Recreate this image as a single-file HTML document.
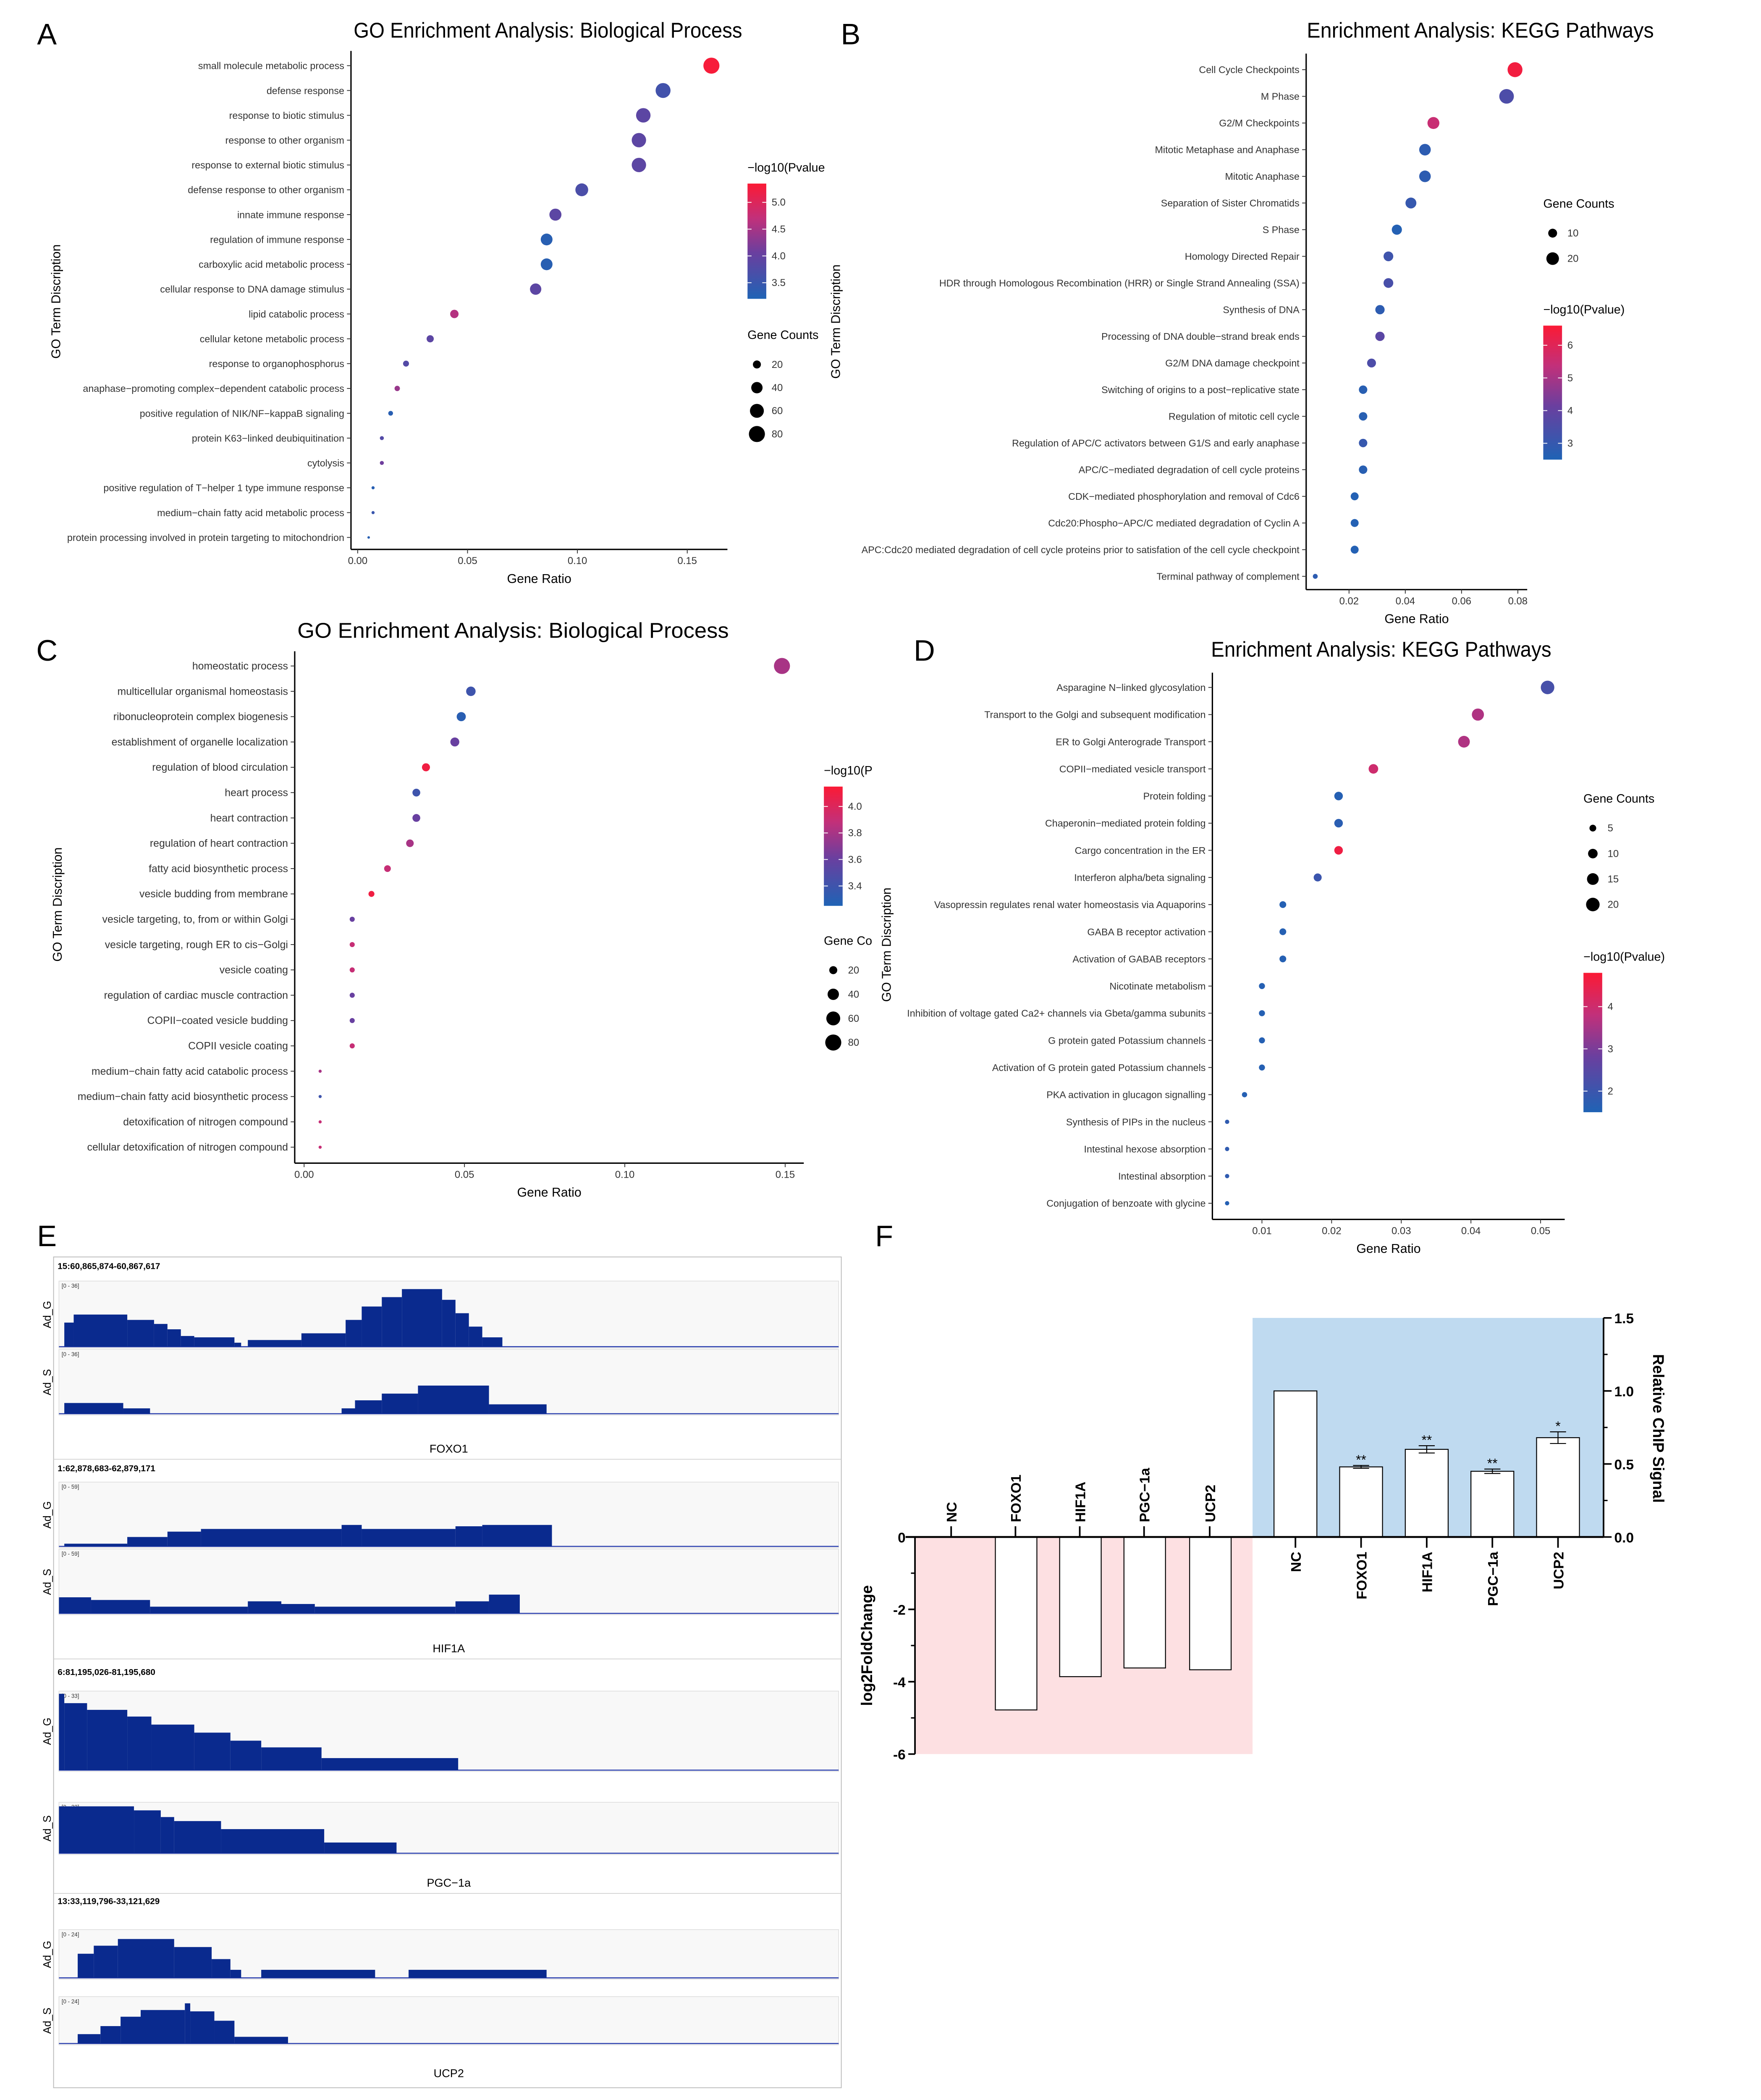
<!DOCTYPE html>
<html><head><meta charset="utf-8">
<style>
html,body{margin:0;padding:0;background:#fff;overflow:hidden;width:4194px;height:5175px;}
svg{display:block;font-family:"Liberation Sans",sans-serif;}
</style></head>
<body>
<svg id="fig" xmlns="http://www.w3.org/2000/svg" width="4194" height="5175" viewBox="0 0 1314 1622" preserveAspectRatio="xMinYMin meet">
<defs>
<linearGradient id="cbar" x1="0" y1="1" x2="0" y2="0">
<stop offset="0" stop-color="#1f63b5"/><stop offset="0.4" stop-color="#6a3f9f"/><stop offset="0.7" stop-color="#c2307a"/><stop offset="1" stop-color="#fb1a35"/>
</linearGradient>
</defs>
</svg>
<script>
// ---------- Panel A data ----------
const aTerms=["small molecule metabolic process","defense response","response to biotic stimulus","response to other organism","response to external biotic stimulus","defense response to other organism","innate immune response","regulation of immune response","carboxylic acid metabolic process","cellular response to DNA damage stimulus","lipid catabolic process","cellular ketone metabolic process","response to organophosphorus","anaphase\u2212promoting complex\u2212dependent catabolic process","positive regulation of NIK/NF\u2212kappaB signaling","protein K63\u2212linked deubiquitination","cytolysis","positive regulation of T\u2212helper 1 type immune response","medium\u2212chain fatty acid metabolic process","protein processing involved in protein targeting to mitochondrion"];
const aRatio=[0.161,0.139,0.130,0.128,0.128,0.102,0.090,0.086,0.086,0.081,0.044,0.033,0.022,0.018,0.015,0.011,0.011,0.007,0.007,0.005];
const aLogP=[5.3,3.6,3.9,3.9,3.9,3.7,3.9,3.3,3.3,3.9,4.6,3.9,3.8,4.4,3.3,3.8,4.1,3.3,3.5,3.3];
const aCount=[80,69,65,64,64,51,45,43,43,40,22,16,11,9,7,5,5,3,3,2];
const aTicks=[0,0.05,0.10,0.15];
const aTickLabels=["0.00","0.05","0.10","0.15"];
// ---------- Panel B data ----------
const bTerms=["Cell Cycle Checkpoints","M Phase","G2/M Checkpoints","Mitotic Metaphase and Anaphase","Mitotic Anaphase","Separation of Sister Chromatids","S Phase","Homology Directed Repair","HDR through Homologous Recombination (HRR) or Single Strand Annealing (SSA)","Synthesis of DNA","Processing of DNA double\u2212strand break ends","G2/M DNA damage checkpoint","Switching of origins to a post\u2212replicative state","Regulation of mitotic cell cycle","Regulation of APC/C activators between G1/S and early anaphase","APC/C\u2212mediated degradation of cell cycle proteins","CDK\u2212mediated phosphorylation and removal of Cdc6","Cdc20:Phospho\u2212APC/C mediated degradation of Cyclin A","APC:Cdc20 mediated degradation of cell cycle proteins prior to satisfation of the cell cycle checkpoint","Terminal pathway of complement"];
const bRatio=[0.079,0.076,0.050,0.047,0.047,0.042,0.037,0.034,0.034,0.031,0.031,0.028,0.025,0.025,0.025,0.025,0.022,0.022,0.022,0.008];
const bLogP=[6.4,3.5,5.5,2.8,2.8,3.0,2.6,3.2,3.4,2.8,3.8,3.5,2.7,2.7,3.0,2.7,2.6,2.6,2.6,2.8];
const bCount=[28,27,18,17,17,15,13,12,12,11,11,10,9,9,9,9,8,8,8,3];
const bTicks=[0.02,0.04,0.06,0.08];
const bTickLabels=["0.02","0.04","0.06","0.08"];
// ---------- Panel C data ----------
const cTerms=["homeostatic process","multicellular organismal homeostasis","ribonucleoprotein complex biogenesis","establishment of organelle localization","regulation of blood circulation","heart process","heart contraction","regulation of heart contraction","fatty acid biosynthetic process","vesicle budding from membrane","vesicle targeting, to, from or within Golgi","vesicle targeting, rough ER to cis\u2212Golgi","vesicle coating","regulation of cardiac muscle contraction","COPII\u2212coated vesicle budding","COPII vesicle coating","medium\u2212chain fatty acid catabolic process","medium\u2212chain fatty acid biosynthetic process","detoxification of nitrogen compound","cellular detoxification of nitrogen compound"];
const cRatio=[0.149,0.052,0.049,0.047,0.038,0.035,0.035,0.033,0.026,0.021,0.015,0.015,0.015,0.015,0.015,0.015,0.005,0.005,0.005,0.005];
const cLogP=[3.8,3.4,3.3,3.6,4.1,3.4,3.6,3.8,3.9,4.1,3.6,3.9,3.9,3.6,3.6,3.9,3.8,3.4,3.9,3.9];
const cCount=[80,28,26,25,20,19,19,18,14,11,8,8,8,8,8,8,3,3,3,3];
const cTicks=[0,0.05,0.10,0.15];
const cTickLabels=["0.00","0.05","0.10","0.15"];
// ---------- Panel D data ----------
const dTerms=["Asparagine N\u2212linked glycosylation","Transport to the Golgi and subsequent modification","ER to Golgi Anterograde Transport","COPII\u2212mediated vesicle transport","Protein folding","Chaperonin\u2212mediated protein folding","Cargo concentration in the ER","Interferon alpha/beta signaling","Vasopressin regulates renal water homeostasis via Aquaporins","GABA B receptor activation","Activation of GABAB receptors","Nicotinate metabolism","Inhibition  of voltage gated Ca2+ channels via Gbeta/gamma subunits","G protein gated Potassium channels","Activation of G protein gated Potassium channels","PKA activation in glucagon signalling","Synthesis of PIPs in the nucleus","Intestinal hexose absorption","Intestinal absorption","Conjugation of benzoate with glycine"];
const dRatio=[0.051,0.041,0.039,0.026,0.021,0.021,0.021,0.018,0.013,0.013,0.013,0.010,0.010,0.010,0.010,0.0075,0.005,0.005,0.005,0.005];
const dLogP=[2.2,3.6,3.6,4.0,1.6,1.7,4.6,2.0,1.6,1.6,1.6,1.6,1.6,1.6,1.6,1.6,1.8,1.8,1.8,1.6];
const dCount=[20,16,15,10,8,8,8,7,5,5,5,4,4,4,4,3,2,2,2,2];
const dTicks=[0.01,0.02,0.03,0.04,0.05];
const dTickLabels=["0.01","0.02","0.03","0.04","0.05"];
// ---------- Panel F data ----------
const fCats=["NC","FOXO1","HIF1A","PGC\u22121a","UCP2"];
const fLog2FC=[0,-4.78,-3.86,-3.62,-3.67];
const fChip=[1.0,0.48,0.60,0.45,0.68];
const fChipErr=[0,0.01,0.025,0.015,0.04];
const fStars=["","**","**","**","*"];
const fLeftTicks=[0,-2,-4,-6];
const fRightTicks=[0,0.5,1.0,1.5];
const fRightTickLabels=["0.0","0.5","1.0","1.5"];

const NS="http://www.w3.org/2000/svg";
const svg=document.getElementById('fig');
function mk(tag,attrs,parent){const e=document.createElementNS(NS,tag);for(const k in attrs)e.setAttribute(k,attrs[k]);(parent||svg).appendChild(e);return e;}
function txt(s,attrs,parent){const e=mk('text',attrs,parent);e.textContent=s;return e;}
function lerp(a,b,t){return a+(b-a)*t;}
const stops=[[0,[31,99,181]],[0.4,[106,63,159]],[0.7,[194,48,122]],[1,[251,26,53]]];
function col(t){t=Math.max(0,Math.min(1,t));for(let i=0;i<stops.length-1;i++){const[a,ca]=stops[i],[b,cb]=stops[i+1];if(t<=b){const u=(t-a)/(b-a);return 'rgb('+ca.map((c,j)=>Math.round(lerp(c,cb[j],u))).join(',')+')';}}return 'rgb(251,26,53)';}

[["A",35,33],["B",635,33],["C",35,493],["D",690,493],["E",35,930],["F",660,930]].forEach(p=>{
  const t=txt(p[0],{x:p[1],y:p[2],'font-size':22,'text-anchor':'middle',fill:'#000'});
  
  
});

function dotPanel(key,terms,ratio,logp,count,o){
  const g=mk('g',{});
  
  
  const X=v=>o.x0+v*o.xs;
  const Y=i=>o.y0+i*o.dy;
  const R=c=>o.rk*Math.sqrt(c);
  const ti=txt(o.title,{x:o.tx,y:o.ty,'font-size':16,'text-anchor':'middle',textLength:o.tl,lengthAdjust:'spacingAndGlyphs',fill:'#000'},g);
  
  
  mk('line',{x1:o.left,y1:o.top,x2:o.left,y2:o.bottom,stroke:'#000','stroke-width':1},g);
  mk('line',{x1:o.left,y1:o.bottom,x2:o.right,y2:o.bottom,stroke:'#000','stroke-width':1},g);
  terms.forEach((t,i)=>{
    const l=txt(t,{x:o.left-5,y:Y(i)+2.6,'font-size':o.fs,'text-anchor':'end',fill:'#333'},g);
    
    
    mk('line',{x1:o.left-3,y1:Y(i),x2:o.left,y2:Y(i),stroke:'#333','stroke-width':0.6},g);
    const c=mk('circle',{cx:X(ratio[i]),cy:Y(i),r:R(count[i]),fill:col((logp[i]-o.pmin)/(o.pmax-o.pmin))},g);
    
    
  });
  o.ticks.forEach((v,i)=>{
    mk('line',{x1:X(v),y1:o.bottom,x2:X(v),y2:o.bottom+3,stroke:'#333','stroke-width':0.6},g);
    const t=txt(o.tickLabels[i],{x:X(v),y:o.bottom+11,'font-size':7.5,'text-anchor':'middle',fill:'#333'},g);
    
    
  });
  const xt=txt('Gene Ratio',{x:(o.left+o.right)/2,y:o.bottom+25,'font-size':9.5,'text-anchor':'middle',fill:'#000'},g);
  
  
  const yt=txt('GO Term Discription',{x:0,y:0,'font-size':9.5,'text-anchor':'middle',fill:'#000',transform:'translate('+o.ytx+','+o.yty+') rotate(-90)'},g);
  
  
  const cl=mk('g',{},g);
  
  
  txt(o.cTitle,{x:o.cx,y:o.cy,'font-size':9,fill:'#000'},cl);
  mk('rect',{x:o.cx,y:o.cy+9,width:14,height:o.ch,fill:'url(#cbar)'},cl);
  o.cLabels.forEach((lb,i)=>{
    const yy=o.cy+9+o.ch*(1-(lb-o.pmin)/(o.pmax-o.pmin));
    mk('line',{x1:o.cx,y1:yy,x2:o.cx+3,y2:yy,stroke:'#fff','stroke-width':0.6},cl);
    mk('line',{x1:o.cx+11,y1:yy,x2:o.cx+14,y2:yy,stroke:'#fff','stroke-width':0.6},cl);
    txt(o.cLabelText[i],{x:o.cx+18,y:yy+2.5,'font-size':7.5,fill:'#333'},cl);
  });
  const sl=mk('g',{},g);
  
  
  txt(o.sTitle,{x:o.sx,y:o.sy,'font-size':9,fill:'#000'},sl);
  o.sVals.forEach((v,i)=>{
    const yy=o.sy+19+i*o.sdy;
    mk('circle',{cx:o.sx+7,cy:yy,r:R(v),fill:'#000'},sl);
    txt(String(v),{x:o.sx+18,y:yy+2.5,'font-size':7.5,fill:'#333'},sl);
  });
}

dotPanel('a',aTerms,aRatio,aLogP,aCount,{title:'GO Enrichment Analysis: Biological Process',tx:409,ty:28,tl:290,x0:267,xs:1640,y0:49,dy:18.53,left:262,right:543,top:38,bottom:410,fs:7.3,ticks:aTicks,tickLabels:aTickLabels,ytx:45,yty:225,rk:0.67,pmin:3.2,pmax:5.35,cTitle:'\u2212log10(Pvalue',cx:558,cy:128,ch:86,cLabels:[5.0,4.5,4.0,3.5],cLabelText:['5.0','4.5','4.0','3.5'],sTitle:'Gene Counts',sx:558,sy:253,sVals:[20,40,60,80],sdy:17.3});
dotPanel('b',bTerms,bRatio,bLogP,bCount,{title:'Enrichment Analysis: KEGG Pathways',tx:1105,ty:28,tl:259,x0:965,xs:2100,y0:52,dy:19.9,left:975,right:1140,top:40,bottom:440,fs:7.3,ticks:bTicks,tickLabels:bTickLabels,ytx:627,yty:240,rk:1.05,pmin:2.5,pmax:6.6,cTitle:'\u2212log10(Pvalue)',cx:1152,cy:234,ch:100,cLabels:[6,5,4,3],cLabelText:['6','5','4','3'],sTitle:'Gene Counts',sx:1152,sy:155,sVals:[10,20],sdy:19});
dotPanel('c',cTerms,cRatio,cLogP,cCount,{title:'GO Enrichment Analysis: Biological Process',tx:383,ty:476,tl:322,x0:227,xs:2394,y0:497,dy:18.9,left:220,right:600,top:486,bottom:868,fs:7.8,ticks:cTicks,tickLabels:cTickLabels,ytx:46,yty:675,rk:0.67,pmin:3.25,pmax:4.15,cTitle:'\u2212log10(P',cx:615,cy:578,ch:89,cLabels:[4.0,3.8,3.6,3.4],cLabelText:['4.0','3.8','3.6','3.4'],sTitle:'Gene Co',sx:615,sy:705,sVals:[20,40,60,80],sdy:18});
dotPanel('d',dTerms,dRatio,dLogP,dCount,{title:'Enrichment Analysis: KEGG Pathways',tx:1031,ty:490,tl:254,x0:890,xs:5200,y0:513,dy:20.26,left:905,right:1168,top:502,bottom:910,fs:7.3,ticks:dTicks,tickLabels:dTickLabels,ytx:665,yty:705,rk:1.13,pmin:1.5,pmax:4.8,cTitle:'\u2212log10(Pvalue)',cx:1182,cy:717,ch:104,cLabels:[4,3,2],cLabelText:['4','3','2'],sTitle:'Gene Counts',sx:1182,sy:599,sVals:[5,10,15,20],sdy:19});

// ---------- Panel E: coverage tracks ----------
const eFOXO1G=[[48,55,18],[55,95,24],[95,115,20],[115,125,17],[125,135,13],[135,145,8],[145,175,7],[175,180,3],[180,185,0],[185,225,5],[225,258,10],[258,270,20],[270,285,30],[285,300,37],[300,330,43],[330,340,35],[340,350,25],[350,360,15],[360,375,7]];
const eFOXO1S=[[48,92,8],[92,112,4],[255,265,4],[265,285,10],[285,312,15],[312,365,21],[365,408,7]];
const eHIF1AG=[[48,95,2],[95,125,7],[125,150,11],[150,255,13],[255,270,16],[270,340,13],[340,360,15],[360,412,16]];
const eHIF1AS=[[44,68,12],[68,112,10],[112,185,5],[185,210,9],[210,235,7],[235,340,5],[340,365,9],[365,388,14]];
const ePGCG=[[44,48,57],[48,65,50],[65,95,45],[95,113,40],[113,145,34],[145,172,28],[172,195,22],[195,240,17],[240,342,9]];
const ePGCS=[[44,100,35],[100,120,32],[120,130,27],[130,165,24],[165,242,18],[242,296,8]];
const eUCPG=[[58,70,18],[70,88,24],[88,130,29],[130,158,23],[158,172,14],[172,180,6],[195,280,6],[305,408,6]];
const eUCPS=[[58,75,7],[75,90,13],[90,105,20],[105,138,25],[138,142,30],[142,160,24],[160,175,17],[175,215,5]];
const eGroups=[
 {gene:'FOXO1',coord:'15:60,865,874-60,867,617',range:'[0 - 36]',cy:947,tracks:[[956,1006,eFOXO1G],[1007,1056,eFOXO1S]],ly:1084},
 {gene:'HIF1A',coord:'1:62,878,683-62,879,171',range:'[0 - 59]',cy:1098,tracks:[[1106,1155,eHIF1AG],[1156,1205,eHIF1AS]],ly:1233},
 {gene:'PGC\u22121a',coord:'6:81,195,026-81,195,680',range:'[0 - 33]',cy:1250,tracks:[[1262,1322,ePGCG],[1345,1384,ePGCS]],ly:1408},
 {gene:'UCP2',coord:'13:33,119,796-33,121,629',range:'[0 - 24]',cy:1421,tracks:[[1440,1477,eUCPG],[1490,1526,eUCPS]],ly:1550}
];
mk('rect',{x:40,y:938,width:588,height:620,fill:'none',stroke:'#bbb','stroke-width':0.6});
eGroups.forEach((gr,gi)=>{
  const g=mk('g',{});
  
  
  txt(gr.coord,{x:43,y:gr.cy,'font-size':6.5,'font-weight':'bold',fill:'#000'},g);
  gr.tracks.forEach((tr,ti)=>{
    const [t0,t1,segs]=tr;
    const bg=mk('rect',{x:44,y:t0,width:582,height:t1-t0,fill:'#f8f8f8',stroke:'#ddd','stroke-width':0.5},g);
    
    
    txt(gr.range,{x:46,y:t0+5,'font-size':4.2,fill:'#333'},g);
    mk('line',{x1:44,y1:t1-1,x2:626,y2:t1-1,stroke:'#2b3fae','stroke-width':0.8},g);
    segs.forEach(s=>{
      const r=mk('rect',{x:s[0],y:t1-1-s[2],width:s[1]-s[0],height:s[2],fill:'#0a2a8e'},g);
      
      
    });
    const lab=txt(ti?'Ad_S':'Ad_G',{x:0,y:0,'font-size':8,'text-anchor':'middle',fill:'#000',transform:'translate('+38+','+((t0+t1)/2)+') rotate(-90)'},g);
    
    
  });
  const gl=txt(gr.gene,{x:335,y:gr.ly,'font-size':8.5,'text-anchor':'middle',fill:'#000'},g);
  
  
  if(gi<3)mk('line',{x1:40,y1:gr.ly+5,x2:628,y2:gr.ly+5,stroke:'#ccc','stroke-width':0.5},g);
});

// ---------- Panel F ----------
(function(){
  const g=mk('g',{});
  
  
  const zeroY=1147, lk=27, rk=109;
  const YL=v=>zeroY-v*lk;
  const YR=v=>zeroY-v*rk;
  const leftX=[710,758,806,854,903];
  const rightX=[967,1016,1065,1114,1163];
  mk('rect',{x:683,y:zeroY,width:252,height:YL(-6)-zeroY,fill:'#fde0e2'},g);
  mk('rect',{x:935,y:YR(1.5),width:262,height:zeroY-YR(1.5),fill:'#bfdaf0'},g);
  fLog2FC.forEach((v,i)=>{
    if(v!==0){
      const b=mk('rect',{x:leftX[i]-15,y:zeroY,width:31,height:YL(v)-zeroY,fill:'#fff',stroke:'#000','stroke-width':0.7},g);
      
      
    }
  });
  mk('line',{x1:683,y1:zeroY,x2:683,y2:YL(-6),stroke:'#000','stroke-width':1.2},g);
  fLeftTicks.forEach(v=>{
    mk('line',{x1:678,y1:YL(v),x2:683,y2:YL(v),stroke:'#000','stroke-width':1.2},g);
    const t=txt(String(v),{x:676,y:YL(v)+4,'font-size':10.5,'font-weight':'bold','text-anchor':'end',fill:'#000'},g);
    
    
  });
  [-1,-3,-5].forEach(v=>mk('line',{x1:680,y1:YL(v),x2:683,y2:YL(v),stroke:'#000','stroke-width':1},g));
  fCats.forEach((c,i)=>{
    mk('line',{x1:leftX[i],y1:zeroY-8,x2:leftX[i],y2:zeroY,stroke:'#000','stroke-width':1.2},g);
    const t=txt(c,{x:0,y:0,'font-size':10.5,'font-weight':'bold','text-anchor':'start',fill:'#000',transform:'translate('+(leftX[i]+4)+','+(zeroY-11)+') rotate(-90)'},g);
    
    
  });
  fChip.forEach((v,i)=>{
    const b=mk('rect',{x:rightX[i]-16,y:YR(v),width:32,height:zeroY-YR(v),fill:'#fff',stroke:'#000','stroke-width':0.7},g);
    
    
    if(fChipErr[i]>0){
      const e1=YR(v+fChipErr[i]),e2=YR(v-fChipErr[i]);
      mk('line',{x1:rightX[i],y1:e1,x2:rightX[i],y2:e2,stroke:'#000','stroke-width':0.7},g);
      mk('line',{x1:rightX[i]-6,y1:e1,x2:rightX[i]+6,y2:e1,stroke:'#000','stroke-width':0.7},g);
      mk('line',{x1:rightX[i]-6,y1:e2,x2:rightX[i]+6,y2:e2,stroke:'#000','stroke-width':0.7},g);
    }
    if(fStars[i]){
      const s=txt(fStars[i],{x:rightX[i],y:YR(v+fChipErr[i])-1,'font-size':10,'text-anchor':'middle',fill:'#000'},g);
      
      
    }
    mk('line',{x1:rightX[i],y1:zeroY,x2:rightX[i],y2:zeroY+8,stroke:'#000','stroke-width':1.2},g);
    const t=txt(fCats[i],{x:0,y:0,'font-size':10.5,'font-weight':'bold','text-anchor':'end',fill:'#000',transform:'translate('+(rightX[i]+4)+','+(zeroY+11)+') rotate(-90)'},g);
    
    
  });
  mk('line',{x1:676,y1:zeroY,x2:1197,y2:zeroY,stroke:'#000','stroke-width':1.4},g);
  mk('line',{x1:1197,y1:YR(1.5),x2:1197,y2:zeroY,stroke:'#000','stroke-width':1.2},g);
  fRightTicks.forEach((v,i)=>{
    mk('line',{x1:1197,y1:YR(v),x2:1203,y2:YR(v),stroke:'#000','stroke-width':1.2},g);
    const t=txt(fRightTickLabels[i],{x:1205,y:YR(v)+4,'font-size':10.5,'font-weight':'bold',fill:'#000'},g);
    
    
  });
  [0.25,0.75,1.25].forEach(v=>mk('line',{x1:1197,y1:YR(v),x2:1200,y2:YR(v),stroke:'#000','stroke-width':1},g));
  const yl=txt('log2FoldChange',{x:0,y:0,'font-size':11.5,'font-weight':'bold','text-anchor':'middle',fill:'#000',transform:'translate(651,1228) rotate(-90)'},g);
  
  
  const yr=txt('Relative ChIP Signal',{x:0,y:0,'font-size':11.5,'font-weight':'bold','text-anchor':'middle',fill:'#000',transform:'translate(1234,1066) rotate(90)'},g);
  
  
})();
</script>
</body></html>
